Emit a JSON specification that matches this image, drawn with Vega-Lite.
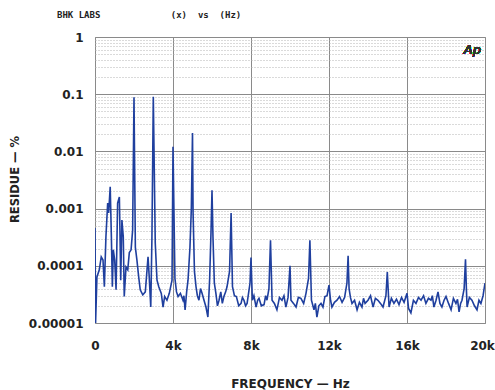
{
  "$schema": "https://vega.github.io/schema/vega-lite/v6.json",
  "width": 390,
  "height": 286,
  "autosize": {"type": "none"},
  "padding": {"left": 95, "top": 37, "right": 10, "bottom": 67},
  "background": "white",
  "config": {
    "view": {"stroke": "#999999", "strokeWidth": 1},
    "font": "DejaVu Sans"
  },
  "title": {
    "text": "BHK LABS\u00a0\u00a0\u00a0\u00a0\u00a0\u00a0\u00a0\u00a0\u00a0\u00a0\u00a0\u00a0\u00a0(x)\u00a0\u00a0vs\u00a0\u00a0(Hz)",
    "anchor": "start",
    "frame": "group",
    "dx": -38,
    "offset": 11,
    "fontSize": 9,
    "fontWeight": "bold",
    "color": "#222222",
    "font": "DejaVu Sans Mono"
  },
  "data": {
    "values": [
      {"hz": 0, "v": 0.00046}, {"hz": 30, "v": 0.00001}, {"hz": 100, "v": 0.000064},
      {"hz": 220, "v": 0.000085}, {"hz": 320, "v": 0.000143}, {"hz": 410, "v": 0.000126},
      {"hz": 480, "v": 0.000043}, {"hz": 560, "v": 0.00032}, {"hz": 650, "v": 0.00125},
      {"hz": 700, "v": 0.00084}, {"hz": 780, "v": 0.0024}, {"hz": 840, "v": 0.00032},
      {"hz": 890, "v": 0.000043}, {"hz": 940, "v": 0.00019}, {"hz": 1010, "v": 0.000126},
      {"hz": 1080, "v": 0.000038}, {"hz": 1160, "v": 0.00125}, {"hz": 1250, "v": 0.0016},
      {"hz": 1320, "v": 0.000056}, {"hz": 1380, "v": 0.00063}, {"hz": 1450, "v": 0.00032},
      {"hz": 1500, "v": 0.000029}, {"hz": 1590, "v": 0.000095}, {"hz": 1680, "v": 0.000085},
      {"hz": 1760, "v": 0.00017}, {"hz": 1850, "v": 0.00019}, {"hz": 1930, "v": 0.00042},
      {"hz": 2000, "v": 0.088}, {"hz": 2070, "v": 0.00021}, {"hz": 2150, "v": 0.000126},
      {"hz": 2240, "v": 0.000064}, {"hz": 2320, "v": 0.000038}, {"hz": 2450, "v": 0.000031},
      {"hz": 2580, "v": 0.000035}, {"hz": 2720, "v": 0.000143}, {"hz": 2780, "v": 0.000064},
      {"hz": 2860, "v": 0.000019}, {"hz": 2920, "v": 0.00032}, {"hz": 2990, "v": 0.09},
      {"hz": 3090, "v": 0.00025}, {"hz": 3180, "v": 0.000056}, {"hz": 3270, "v": 0.000043},
      {"hz": 3400, "v": 0.000033}, {"hz": 3490, "v": 0.000019}, {"hz": 3570, "v": 0.000029},
      {"hz": 3690, "v": 0.000025}, {"hz": 3810, "v": 0.000033}, {"hz": 3950, "v": 0.000056},
      {"hz": 4000, "v": 0.012}, {"hz": 4100, "v": 0.00006}, {"hz": 4180, "v": 0.000035},
      {"hz": 4260, "v": 0.000029}, {"hz": 4380, "v": 0.000033}, {"hz": 4510, "v": 0.000025},
      {"hz": 4560, "v": 0.00003}, {"hz": 4620, "v": 0.000017}, {"hz": 4700, "v": 0.000035},
      {"hz": 4770, "v": 0.000056}, {"hz": 4870, "v": 0.00021}, {"hz": 4940, "v": 0.001},
      {"hz": 5000, "v": 0.021}, {"hz": 5030, "v": 0.00084}, {"hz": 5100, "v": 0.00008},
      {"hz": 5180, "v": 0.000043}, {"hz": 5250, "v": 0.00003}, {"hz": 5330, "v": 0.000025},
      {"hz": 5410, "v": 0.00004}, {"hz": 5490, "v": 0.000033}, {"hz": 5590, "v": 0.000025},
      {"hz": 5690, "v": 0.000019}, {"hz": 5790, "v": 0.0000127}, {"hz": 5880, "v": 0.00006},
      {"hz": 5950, "v": 0.0004}, {"hz": 6000, "v": 0.0021}, {"hz": 6050, "v": 0.00032},
      {"hz": 6120, "v": 0.00005}, {"hz": 6200, "v": 0.000033}, {"hz": 6280, "v": 0.00002},
      {"hz": 6360, "v": 0.000025}, {"hz": 6450, "v": 0.000035}, {"hz": 6530, "v": 0.000022},
      {"hz": 6610, "v": 0.000029}, {"hz": 6700, "v": 0.000035}, {"hz": 6770, "v": 0.000043},
      {"hz": 6900, "v": 0.00008}, {"hz": 6980, "v": 0.00084}, {"hz": 7050, "v": 0.000043},
      {"hz": 7150, "v": 0.00003}, {"hz": 7250, "v": 0.000029}, {"hz": 7370, "v": 0.00002},
      {"hz": 7490, "v": 0.000022}, {"hz": 7560, "v": 0.000028}, {"hz": 7640, "v": 0.000025},
      {"hz": 7720, "v": 0.00002}, {"hz": 7800, "v": 0.000022}, {"hz": 7950, "v": 0.00005},
      {"hz": 8000, "v": 0.00014}, {"hz": 8070, "v": 0.000025}, {"hz": 8150, "v": 0.00003},
      {"hz": 8260, "v": 0.000019}, {"hz": 8340, "v": 0.000025}, {"hz": 8410, "v": 0.000027},
      {"hz": 8530, "v": 0.00002}, {"hz": 8670, "v": 0.000021}, {"hz": 8750, "v": 0.00003},
      {"hz": 8820, "v": 0.000025}, {"hz": 8920, "v": 0.00004}, {"hz": 9000, "v": 0.00028},
      {"hz": 9080, "v": 0.000025}, {"hz": 9200, "v": 0.000022}, {"hz": 9330, "v": 0.000017},
      {"hz": 9460, "v": 0.000028}, {"hz": 9590, "v": 0.000025}, {"hz": 9690, "v": 0.00003},
      {"hz": 9790, "v": 0.000019}, {"hz": 9900, "v": 0.000028}, {"hz": 10000, "v": 0.0001},
      {"hz": 10050, "v": 0.000025}, {"hz": 10180, "v": 0.000022}, {"hz": 10310, "v": 0.000019},
      {"hz": 10430, "v": 0.000028}, {"hz": 10560, "v": 0.000027}, {"hz": 10700, "v": 0.000022},
      {"hz": 10820, "v": 0.000033}, {"hz": 10950, "v": 0.00006}, {"hz": 11020, "v": 0.00028},
      {"hz": 11100, "v": 0.000025}, {"hz": 11230, "v": 0.000017}, {"hz": 11300, "v": 0.000022},
      {"hz": 11380, "v": 0.0000127}, {"hz": 11480, "v": 0.00002}, {"hz": 11590, "v": 0.000022},
      {"hz": 11690, "v": 0.000019}, {"hz": 11790, "v": 0.000029}, {"hz": 11900, "v": 0.00003},
      {"hz": 12000, "v": 0.000046}, {"hz": 12080, "v": 0.000025}, {"hz": 12150, "v": 0.000019},
      {"hz": 12280, "v": 0.000023}, {"hz": 12410, "v": 0.000025}, {"hz": 12540, "v": 0.000029},
      {"hz": 12670, "v": 0.000023}, {"hz": 12800, "v": 0.000028}, {"hz": 12920, "v": 0.00005},
      {"hz": 12980, "v": 0.00015}, {"hz": 13030, "v": 0.00004}, {"hz": 13100, "v": 0.000028},
      {"hz": 13180, "v": 0.000022}, {"hz": 13310, "v": 0.000025}, {"hz": 13440, "v": 0.000017},
      {"hz": 13560, "v": 0.000023}, {"hz": 13690, "v": 0.000019}, {"hz": 13770, "v": 0.000027},
      {"hz": 13850, "v": 0.000022}, {"hz": 14000, "v": 0.000025}, {"hz": 14130, "v": 0.00003},
      {"hz": 14260, "v": 0.000019}, {"hz": 14380, "v": 0.000027}, {"hz": 14510, "v": 0.000025},
      {"hz": 14640, "v": 0.000022}, {"hz": 14770, "v": 0.000019}, {"hz": 14920, "v": 0.00003},
      {"hz": 14990, "v": 0.000078}, {"hz": 15080, "v": 0.000019}, {"hz": 15200, "v": 0.000027},
      {"hz": 15330, "v": 0.000022}, {"hz": 15460, "v": 0.000026}, {"hz": 15590, "v": 0.000021},
      {"hz": 15720, "v": 0.000028}, {"hz": 15850, "v": 0.000023}, {"hz": 15930, "v": 0.000028},
      {"hz": 16000, "v": 0.000033}, {"hz": 16080, "v": 0.000018}, {"hz": 16200, "v": 0.000015},
      {"hz": 16330, "v": 0.000025}, {"hz": 16460, "v": 0.000022}, {"hz": 16590, "v": 0.000028},
      {"hz": 16720, "v": 0.000025}, {"hz": 16850, "v": 0.00003}, {"hz": 16970, "v": 0.000022},
      {"hz": 17100, "v": 0.000027}, {"hz": 17230, "v": 0.000025}, {"hz": 17300, "v": 0.00003},
      {"hz": 17380, "v": 0.000019}, {"hz": 17490, "v": 0.000025}, {"hz": 17590, "v": 0.000035},
      {"hz": 17690, "v": 0.000022}, {"hz": 17790, "v": 0.000019}, {"hz": 17900, "v": 0.000025},
      {"hz": 18000, "v": 0.000029}, {"hz": 18130, "v": 0.000022}, {"hz": 18260, "v": 0.000017},
      {"hz": 18380, "v": 0.000027}, {"hz": 18510, "v": 0.000022}, {"hz": 18590, "v": 0.000026},
      {"hz": 18670, "v": 0.0000156}, {"hz": 18750, "v": 0.000022}, {"hz": 18820, "v": 0.000025},
      {"hz": 18930, "v": 0.00004}, {"hz": 19000, "v": 0.00013}, {"hz": 19040, "v": 0.000045},
      {"hz": 19080, "v": 0.000019}, {"hz": 19200, "v": 0.000028}, {"hz": 19330, "v": 0.000025},
      {"hz": 19460, "v": 0.00002}, {"hz": 19590, "v": 0.000017}, {"hz": 19690, "v": 0.000025},
      {"hz": 19790, "v": 0.000022}, {"hz": 19900, "v": 0.00003}, {"hz": 20000, "v": 0.00005}
    ]
  },
  "layer": [
    {
      "mark": {"type": "line", "color": "#1f3f9e", "strokeWidth": 1.6, "clip": true},
      "encoding": {
        "x": {
          "field": "hz", "type": "quantitative",
          "scale": {"domain": [0, 20000], "nice": false},
          "axis": {
            "values": [0, 2000, 4000, 6000, 8000, 10000, 12000, 14000, 16000, 18000, 20000],
            "labelExpr": "datum.value % 4000 == 0 ? (datum.value == 0 ? '0' : (datum.value / 1000) + 'k') : ''",
            "ticks": false, "domain": false,
            "grid": true, "gridColor": "#8a8a8a", "gridWidth": 1,
            "labelFontSize": 12, "labelFontWeight": "bold", "labelColor": "#222222",
            "labelPadding": 17, "labelFlush": false,
            "labelOffset": {"condition": {"test": "datum.value == 20000", "value": -3}, "value": 0},
            "title": "FREQUENCY — Hz",
            "titleFontSize": 12, "titleFontWeight": "bold", "titleColor": "#222222",
            "titleY": 60, "titleBaseline": "middle"
          }
        },
        "y": {
          "field": "v", "type": "quantitative",
          "scale": {"type": "log", "domain": [0.00001, 1], "nice": false},
          "axis": {
            "values": [0.00001, 0.00002, 0.00003, 0.00004, 0.00005, 0.00006, 0.00007, 0.00008, 0.00009,
                       0.0001, 0.0002, 0.0003, 0.0004, 0.0005, 0.0006, 0.0007, 0.0008, 0.0009,
                       0.001, 0.002, 0.003, 0.004, 0.005, 0.006, 0.007, 0.008, 0.009,
                       0.01, 0.02, 0.03, 0.04, 0.05, 0.06, 0.07, 0.08, 0.09,
                       0.1, 0.2, 0.3, 0.4, 0.5, 0.6, 0.7, 0.8, 0.9, 1],
            "labelExpr": "abs(log(datum.value)/LN10 - round(log(datum.value)/LN10)) < 0.001 ? (datum.value >= 0.999 ? '1' : format(datum.value, '.' + (-round(log(datum.value)/LN10)) + 'f')) : ''",
            "ticks": false, "domain": false,
            "grid": true,
            "gridColor": {"condition": {"test": "abs(log(datum.value)/LN10 - round(log(datum.value)/LN10)) < 0.001", "value": "#8a8a8a"}, "value": "#b5b5b5"},
            "gridDash": {"condition": {"test": "abs(log(datum.value)/LN10 - round(log(datum.value)/LN10)) < 0.001", "value": []}, "value": [1, 2]},
            "labelFontSize": 12, "labelFontWeight": "bold", "labelColor": "#222222",
            "labelPadding": 12, "labelFlush": false,
            "title": "RESIDUE — %",
            "titleFontSize": 11.5, "titleFontWeight": "bold", "titleColor": "#222222",
            "titleX": -80, "titleY": 142, "titleAngle": -90, "titleAlign": "center", "titleBaseline": "middle"
          }
        }
      }
    },
    {
      "mark": {"type": "text", "text": "Ap", "fontSize": 13, "fontStyle": "italic", "color": "#333333", "font": "DejaVu Sans"},
      "encoding": {
        "x": {"datum": 19350, "type": "quantitative"},
        "y": {"datum": 0.6, "type": "quantitative"}
      }
    }
  ]
}
